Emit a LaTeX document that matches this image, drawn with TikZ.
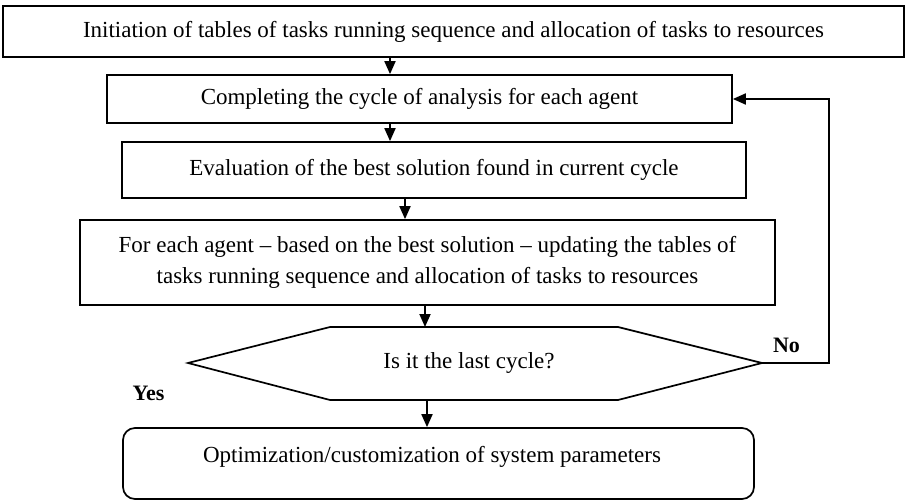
\documentclass[tikz,border=0pt]{standalone}
\usepackage{fontspec}
\setmainfont{Liberation Serif}
\usetikzlibrary{arrows.meta}
\begin{document}
\begin{tikzpicture}[x=1pt,y=-1pt,
  box/.style={draw, line width=1.7pt, inner sep=0pt, font=\fontsize{23}{31}\selectfont, align=center},
  txt/.style={inner sep=0pt, font=\fontsize{23}{31}\selectfont, align=center},
  arr/.style={-{Triangle[width=11pt,length=13pt]}, line width=1.8pt},
  lab/.style={inner sep=0pt, font=\fontsize{22}{26}\selectfont\bfseries}]
\useasboundingbox (0,0) rectangle (906,500);
\node[box, minimum width=901pt, minimum height=51pt] (b1) at (453.5,31.5)
  {Initiation of tables of tasks running sequence and allocation of tasks to resources};
\node[box, minimum width=625pt, minimum height=48pt] (b2) at (419.5,99)
  {Completing the cycle of analysis for each agent};
\node[box, minimum width=624pt, minimum height=56pt] (b3) at (434,170)
  {Evaluation of the best solution found in current cycle};
\node[box, minimum width=695pt, minimum height=85pt] (b4) at (427.5,262.5)
  {For each agent -- based on the best solution -- updating the tables of\\
   tasks running sequence and allocation of tasks to resources};
% decision hexagon
\coordinate (hL) at (188,363);
\coordinate (hR) at (762,363);
\coordinate (hT) at (475,327);
\coordinate (hB) at (475,400);
\draw[line width=1.7pt] (hL) -- (330,327) -- (618,327) -- (hR) -- (618,400) -- (330,400) -- cycle;
\node[txt] (hx) at (469,363) {Is it the last cycle?};
% final rounded box
\node[draw, line width=1.7pt, rounded corners=12pt, minimum width=631pt, minimum height=71pt, inner sep=0pt] (b5) at (438.5,463.5) {};
\node[txt] (b5t) at (432,457) {Optimization/customization of system parameters};
% arrows
\coordinate (c1) at (390,0);
\coordinate (c2) at (405,0);
\coordinate (c3) at (425,0);
\coordinate (c4) at (427,0);
\coordinate (fb) at (829,0);
\draw[arr] (c1 |- b1.south) -- (c1 |- b2.north);
\draw[arr] (c1 |- b2.south) -- (c1 |- b3.north);
\draw[arr] (c2 |- b3.south) -- (c2 |- b4.north);
\draw[arr] (c3 |- b4.south) -- (c3 |- hT);
\draw[arr] (c4 |- hB) -- (c4 |- b5.north);
\draw[arr] (hR) -- (fb |- hR) -- (fb |- b2.east) -- (b2.east);
% labels
\node[lab] (no) at (786.5,345) {No};
\node[lab] (yes) at (148.5,393) {Yes};
\end{tikzpicture}
\end{document}
